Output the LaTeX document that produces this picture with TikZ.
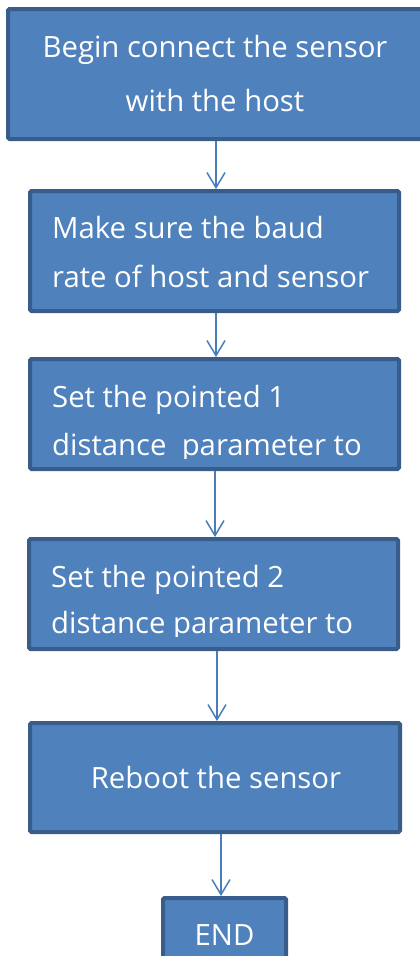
\documentclass[tikz,border=0pt]{standalone}
\usepackage{fontspec}
\setmainfont{Open Sans}
\usetikzlibrary{arrows.meta}
\definecolor{boxfill}{HTML}{4F81BD}
\definecolor{boxline}{HTML}{385D8A}
\definecolor{arrcol}{HTML}{4A7EBB}
\tikzset{
  flowbox/.style={draw=boxline, fill=boxfill, line width=4pt, rounded corners=1.5pt, inner sep=0pt},
  txt/.style={text=white, inner sep=0pt, font=\fontsize{29.3}{35}\selectfont},
  arr/.style={draw=arrcol, line width=1.5pt, -{Straight Barb[length=15pt,width=18pt,line width=1.5pt]}}
}
\begin{document}
\begin{tikzpicture}[x=1pt,y=-1pt]
\useasboundingbox (0,0) rectangle (420,956);
\clip (0,0) rectangle (420,956);
\node[flowbox, minimum width=416pt, minimum height=130pt] (b1) at (216,74) {};
\node[flowbox, minimum width=369pt, minimum height=120pt] (b2) at (214.5,251) {};
\node[flowbox, minimum width=369pt, minimum height=110pt] (b3) at (214.5,414) {};
\node[flowbox, minimum width=369pt, minimum height=110pt] (b4) at (213.5,594) {};
\node[flowbox, minimum width=370pt, minimum height=109pt] (b5) at (215,777.5) {};
\node[flowbox, minimum width=123pt, minimum height=64pt] (b6) at (224.5,930) {};

\node[txt, anchor=base] (t1a) at (215,57) {Begin connect the sensor};
\node[txt, anchor=base] (t1b) at (215,111) {with the host};
\node[txt, anchor=base west] (t2a) at (52,238) {Make sure the baud};
\node[txt, anchor=base west] (t2b) at (52,287) {rate of host and sensor};
\begin{scope}
\clip (b3.north west) rectangle (b3.east |- 0,458);
\node[txt, anchor=base west] (t3a) at (52,407) {Set the pointed 1};
\node[txt, anchor=base west] (t3b) at (52,455) {distance\ \ parameter to};
\end{scope}
\begin{scope}
\clip (b4.north west) rectangle (b4.east |- 0,636);
\node[txt, anchor=base west] (t4a) at (51,587) {Set the pointed 2};
\node[txt, anchor=base west] (t4b) at (51,633) {distance parameter to};
\end{scope}
\node[txt, anchor=base] (t5) at (216,788) {Reboot the sensor};
\node[txt, anchor=base] (t6) at (224.5,945) {END};

\draw[arr] (b1.south -| 216,0) -- (b2.north -| 216,0);
\draw[arr] (b2.south -| 216,0) -- (b3.north -| 216,0);
\draw[arr] (b3.south -| 215,0) -- (b4.north -| 215,0);
\draw[arr] (b4.south -| 217,0) -- (b5.north -| 217,0);
\draw[arr] (b5.south -| 221,0) -- (b6.north -| 221,0);
\end{tikzpicture}
\end{document}
